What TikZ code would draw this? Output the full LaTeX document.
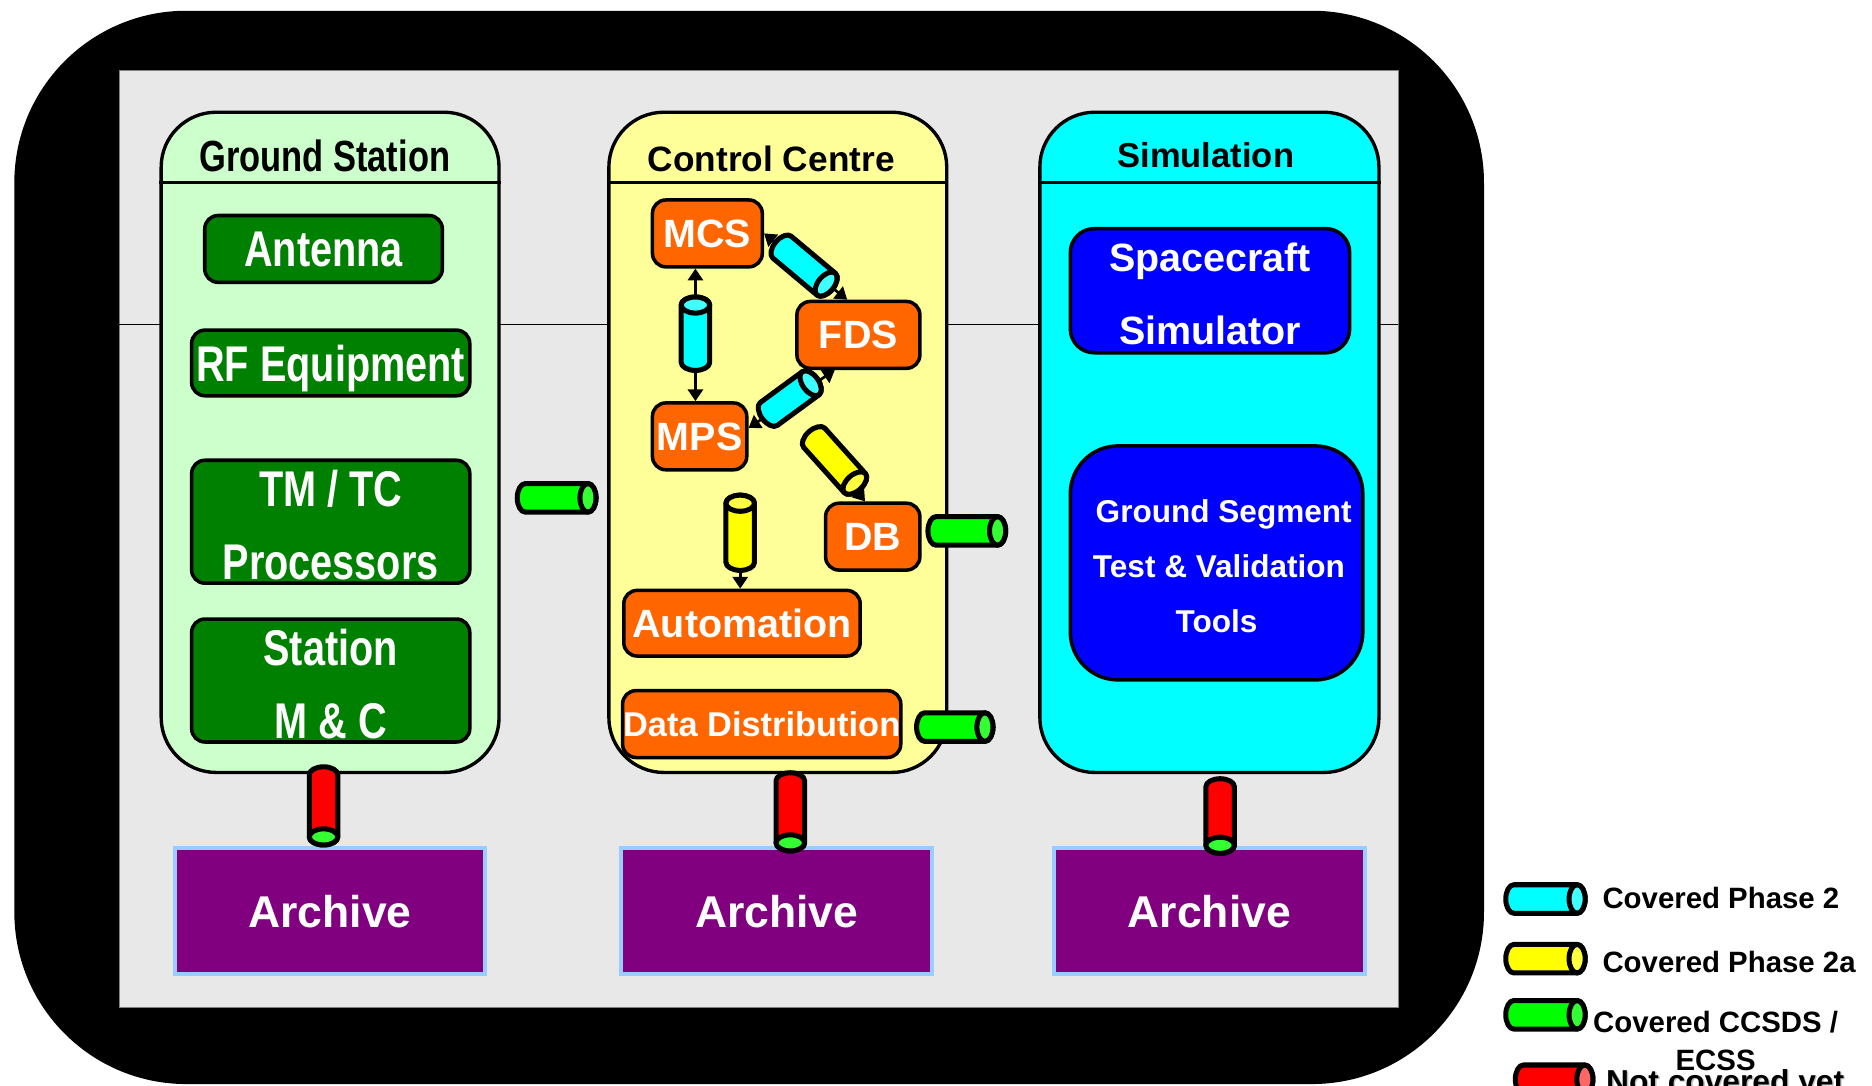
\documentclass[tikz,border=0pt]{standalone}
\usepackage{fontspec}
\setmainfont{Liberation Sans}
\newfontfamily\narrowsf{Liberation Sans}[FakeStretch=0.79]
\usetikzlibrary{arrows.meta,calc}

\definecolor{panelgray}{HTML}{E8E8E8}
\definecolor{gsfill}{HTML}{CCFFCC}
\definecolor{ccfill}{HTML}{FFFF99}
\definecolor{simfill}{HTML}{00FFFF}
\definecolor{gsgreen}{HTML}{008000}
\definecolor{ccorange}{HTML}{FF6600}
\definecolor{simblue}{HTML}{0000FF}
\definecolor{archfill}{HTML}{800080}
\definecolor{archedge}{HTML}{99CCFF}
\definecolor{pipecyan}{HTML}{00FFFF}
\definecolor{facecyan}{HTML}{40FFFF}
\definecolor{pipeyellow}{HTML}{FFFF00}
\definecolor{faceyellow}{HTML}{FFFF40}
\definecolor{pipegreen}{HTML}{00FF00}
\definecolor{facegreen}{HTML}{33FF33}
\definecolor{pipered}{HTML}{FF0000}
\definecolor{facered}{HTML}{FF6666}

% tube cross-section: half width and half depth of the end faces
\newcommand\tubeR{8.5pt}
\newcommand\tubeE{4.8pt}
% invisible strut that sets the height of a first text line
\newcommand\topstrut[1]{\rule{0pt}{#1}}

% \tube{start}{end}{body colour}{face colour}: a cylinder from a rounded end at
% the start coordinate to an open elliptic face at the end coordinate
\newcommand\tube[4]{%
  \pgfmathanglebetweenpoints{\pgfpointanchor{#1}{center}}{\pgfpointanchor{#2}{center}}%
  \let\tubeangle\pgfmathresult
  \pgfpointdiff{\pgfpointanchor{#1}{center}}{\pgfpointanchor{#2}{center}}%
  \pgfgetlastxy{\tubedx}{\tubedy}%
  \pgfmathsetmacro\tubelen{veclen(\tubedx,\tubedy)}%
  \begin{scope}[shift={(#1)}, rotate=\tubeangle]
    \filldraw[tubeedge, fill=#3] (0pt,-\tubeR) -- (\tubelen pt,-\tubeR)
      arc[start angle=-90, end angle=90, x radius=\tubeE, y radius=\tubeR]
      -- (0pt,\tubeR)
      arc[start angle=90, end angle=270, x radius=\tubeE, y radius=\tubeR] -- cycle;
    \filldraw[tubeedge, fill=#4] (\tubelen pt,0pt) ellipse[x radius=\tubeE, y radius=\tubeR];
  \end{scope}}

\tikzset{
  sized/.style 2 args={minimum width=#1*0.025cm, minimum height=#2*0.025cm},
  container/.style={draw=black, line width=2pt, rounded corners=1.15cm, inner sep=0pt},
  header/.style={draw=black, line width=2pt},
  title/.style={inner sep=0pt, text depth=0pt, text=black},
  gsbox/.style={draw=black, line width=2.1pt, fill=gsgreen, rounded corners=0.28cm,
    inner sep=0pt, text=white, align=center,
    font=\narrowsf\bfseries\fontsize{29.9}{43.4}\selectfont},
  oneline/.style={text depth=-4.5pt},
  ccbox/.style={draw=black, line width=2.1pt, fill=ccorange, rounded corners=0.28cm,
    inner sep=0pt, text=white, oneline,
    font=\bfseries\fontsize{23.5}{28}\selectfont},
  simbox/.style={draw=black, line width=2.1pt, fill=simblue, inner sep=0pt,
    text=white, align=center},
  archive/.style={draw=archedge, line width=2.4pt, fill=archfill, inner sep=0pt,
    text=white, text depth=-5.5pt, font=\bfseries\fontsize{26.5}{30}\selectfont},
  tubeedge/.style={draw=black, line width=3pt, line join=round},
  arr/.style={draw=black, line width=1.6pt, >={Triangle[width=9pt,length=7pt]}},
  legtext/.style={inner sep=0pt, text depth=0pt, font=\bfseries\fontsize{17.5}{22.8}\selectfont},
}

\begin{document}
\begin{tikzpicture}[x=0.025cm, y=-0.025cm]
\useasboundingbox (0,0) rectangle (1568,909);

% frame and panel
\fill[black, rounded corners=3.6cm] (12,9) rectangle (1243,908);
\filldraw[fill=panelgray, draw=gray, line width=0.4pt] (100,59) rectangle (1171,844);
\draw[line width=0.7pt] (100,272) -- (1171,272);

% the three areas
\node[container, fill=gsfill, sized={283}{553}] (gs) at (276.5,370.5) {};
\node[container, fill=ccfill, sized={283}{553}] (cc) at (651.5,370.5) {};
\node[container, fill=simfill, sized={284}{553}] (sim) at (1013,370.5) {};
\foreach \a in {gs,cc,sim}
  \draw[header] ([yshift=-1.5cm]\a.north west) -- ([yshift=-1.5cm]\a.north east);

\node[title, font=\narrowsf\bfseries\fontsize{26}{30}\selectfont] (gsT) at (272,130) {Ground Station};
\node[title, font=\bfseries\fontsize{21}{25}\selectfont] (ccT) at (646,133) {Control Centre};
\node[title, font=\bfseries\fontsize{20.6}{25}\selectfont] (simT) at (1010,130) {Simulation};

% ground station
\node[gsbox, oneline, sized={199}{56}] (antenna) at (271,208.5) {Antenna};
\node[gsbox, oneline, sized={233}{55}] (rf) at (277,304) {RF Equipment};
\node[gsbox, sized={233}{103}] (tmtc) at (277,437) {\topstrut{25.4pt}TM / TC\\Processors};
\node[gsbox, sized={233}{103}] (station) at (277,570) {\topstrut{25.6pt}Station\\M \& C};

% control centre
\node[ccbox, sized={92}{56}] (mcs) at (592.5,195.5) {MCS};
\node[ccbox, sized={103}{56}] (fds) at (719,280.5) {FDS};
\node[ccbox, sized={79}{56}] (mps) at (586,365.5) {MPS};
\node[ccbox, sized={79}{56}] (db) at (731,449.5) {DB};
\node[ccbox, sized={198}{55}] (auto) at (621.5,522) {Automation};
\node[ccbox, sized={233}{56}, font=\bfseries\fontsize{20.5}{24}\selectfont] (dd) at (638,606.5) {Data Distribution};

% simulation
\node[simbox, sized={234}{104}, rounded corners=0.5cm,
  font=\bfseries\fontsize{23.5}{43.4}\selectfont] (scsim) at (1013.5,243.5) {\topstrut{20.8pt}Spacecraft\\Simulator};
\node[simbox, sized={245}{196}, rounded corners=1cm,
  font=\bfseries\fontsize{18.8}{32.7}\selectfont] (gstv) at (1019,471.5)
  {\topstrut{17.9pt}\hspace*{0.3cm}Ground Segment\\\hspace*{0.1cm}Test \& Validation\\Tools};

% archives
\node[archive, sized={260}{106}] (arch1) at (276.5,763) {Archive};
\node[archive, sized={260}{106}] (arch2) at (650.5,763) {Archive};
\node[archive, sized={260}{106}] (arch3) at (1013,763) {Archive};

% tube end points
\coordinate (rGSs) at (271,649);    \coordinate (rGSe) at (271,701);
\coordinate (rCCs) at (662,654);    \coordinate (rCCe) at (662,706);
\coordinate (rSIs) at (1022,659);   \coordinate (rSIe) at (1022,708);
\coordinate (gLs) at (440,417);     \coordinate (gLe) at (492.5,417);
\coordinate (gDBs) at (784,444.7);  \coordinate (gDBe) at (835.6,444.7);
\coordinate (gDDs) at (774.5,609);  \coordinate (gDDe) at (825,609);
\coordinate (cMFs) at (655,207);    \coordinate (cMFe) at (692,238);
\coordinate (cMMs) at (582.5,303.5);\coordinate (cMMe) at (582.5,255.5);
\coordinate (cPFs) at (644,346.7);  \coordinate (cPFe) at (679,321);
\coordinate (yFDs) at (682,366.7);  \coordinate (yFDe) at (716,404.6);
\coordinate (yAus) at (620,471);    \coordinate (yAue) at (620,421.5);

% flows inside the control centre
\draw[arr,<->] (cMMs |- mcs.south) -- (cMMs |- mps.north);
\draw[arr,<->] (mcs.east) -- ([xshift=1.09cm]fds.north west);
\draw[arr,<->] ([yshift=0.175cm]mps.east) -- ([xshift=0.83cm]fds.south west);
\draw[arr,->] (yFDs) -- ([xshift=-0.16cm]db.north);
\draw[arr,->] (yAue) -- (yAue |- auto.north);

% interface tubes
\tube{cMMs}{cMMe}{pipecyan}{facecyan}
\tube{cMFs}{cMFe}{pipecyan}{facecyan}
\tube{cPFs}{cPFe}{pipecyan}{facecyan}
\tube{yFDs}{yFDe}{pipeyellow}{faceyellow}
\tube{yAus}{yAue}{pipeyellow}{faceyellow}
\tube{gLs}{gLe}{pipegreen}{facegreen}
\tube{gDBs}{gDBe}{pipegreen}{facegreen}
\tube{gDDs}{gDDe}{pipegreen}{facegreen}
\tube{rGSs}{rGSe}{pipered}{facegreen}
\tube{rCCs}{rCCe}{pipered}{facegreen}
\tube{rSIs}{rSIe}{pipered}{facegreen}

% legend
\coordinate (l1s) at (1268,753);  \coordinate (l1e) at (1321,753);
\coordinate (l2s) at (1268,803);  \coordinate (l2e) at (1321,803);
\coordinate (l3s) at (1268,850);  \coordinate (l3e) at (1321,850);
\coordinate (l4s) at (1276,904);  \coordinate (l4e) at (1327.5,904);
\tube{l1s}{l1e}{pipecyan}{facecyan}
\tube{l2s}{l2e}{pipeyellow}{faceyellow}
\tube{l3s}{l3e}{pipegreen}{facegreen}
\tube{l4s}{l4e}{pipered}{facered}
\node[legtext, anchor=west] (lg1) at (1342,752) {Covered Phase 2};
\node[legtext, anchor=west] (lg2) at (1342,806) {Covered Phase 2a};
\node[legtext, align=center] (lg3) at (1437,872) {Covered CCSDS /\\ECSS};
\node[legtext, anchor=base west, text=gray!50, font=\bfseries\fontsize{18.9}{22}\selectfont] (lg4s) at (1346.2,916.2) {Not covered yet};
\node[legtext, anchor=base west, font=\bfseries\fontsize{18.9}{22}\selectfont] (lg4) at (1345,915) {Not covered yet};
\end{tikzpicture}
\end{document}
